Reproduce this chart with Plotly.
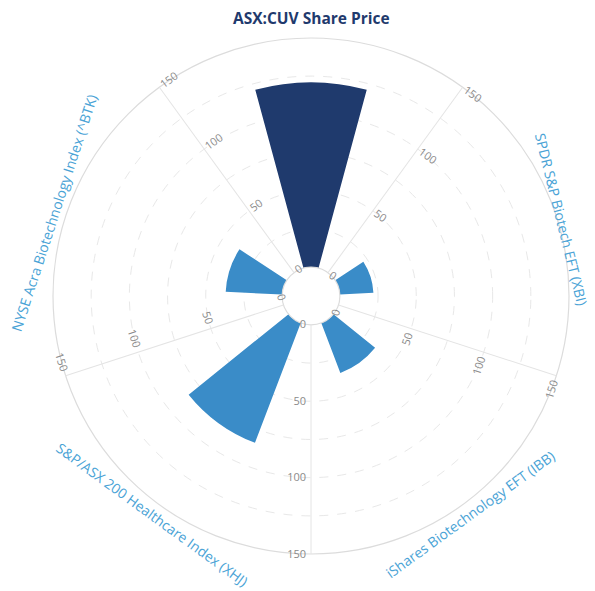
import math
import plotly.graph_objects as go

categories = ["ASX:CUV Share Price", "SPDR S&P Biotech EFT (XBI)", "iShares Biotechnology EFT (IBB)",
              "S&P/ASX 200 Healthcare Index (XHJ)", "NYSE Acra Biotechnology Index (^BTK)"]
values = [121, 22, 35, 84, 37]
bar_colors = ["#1f3a6d", "#3a8cc8", "#3a8cc8", "#3a8cc8", "#3a8cc8"]
label_colors = ["#1f3a6d", "#4aa3d6", "#4aa3d6", "#4aa3d6", "#4aa3d6"]
tick_vals = [0, 50, 100, 150]
grid_vals = [0, 25, 50, 75, 100, 125, 150]

W, H = 595, 591
cx, cy, R = 311, 296, 258
HOLE = 0.112
dom_x = [(cx - R) / W, (cx + R) / W]
dom_y = [(H - (cy + R)) / H, (H - (cy - R)) / H]

fig = go.Figure()
fig.add_trace(go.Barpolar(r=values, theta=categories, marker_color=bar_colors,
                          marker_line_width=0, width=0.42, subplot="polar",
                          showlegend=False, hoverinfo="r+theta"))

common_polar = dict(domain=dict(x=dom_x, y=dom_y), hole=HOLE)

layout = dict(
    width=W, height=H, margin=dict(l=0, r=0, t=0, b=0),
    paper_bgcolor="white", showlegend=False,
    font=dict(family="Open Sans", color="#888"),
    polar=dict(
        **common_polar, bgcolor="white",
        angularaxis=dict(type="category", categoryarray=categories, direction="clockwise",
                         rotation=90, showticklabels=False, ticks="", showgrid=False,
                         showline=True, linecolor="#dcdcdc", linewidth=1.2),
        radialaxis=dict(range=[0, 150], tickvals=grid_vals, showticklabels=False, ticks="",
                        showline=False, showgrid=True, gridcolor="#e8e8e8", griddash="dash",
                        gridwidth=1),
    ),
)

# radial axes drawn along the category boundaries, labels perpendicular to each spoke
spoke_angles = [90 - 36 - 72 * k for k in range(5)]
for i, a in enumerate(spoke_angles):
    name = f"polar{i + 2}"
    w = -(a + 90)
    while w <= -90:
        w += 180
    while w > 90:
        w -= 180
    t = w + a
    while t <= -180:
        t += 360
    while t > 180:
        t -= 360
    layout[name] = dict(
        **common_polar, bgcolor="rgba(0,0,0,0)",
        angularaxis=dict(visible=False, direction="clockwise", rotation=90),
        radialaxis=dict(range=[0, 150], angle=a, tickvals=tick_vals, ticks="",
                        showline=True, linecolor="#e4e4e4", linewidth=1, showgrid=False,
                        tickangle=t, tickfont=dict(size=11, color="#8a8a8a")),
    )
    fig.add_trace(go.Scatterpolar(r=[None], theta=[0], subplot=name, mode="markers",
                                  showlegend=False, hoverinfo="skip"))

# category labels, tangent to the outer circle
label_style = [  # (radius offset, angle offset, extra rotation, font size)
    (20, 0, 0, 15.5),
    (4, -1, 4, 14),
    (12, 0, 0, 14),
    (12, 0, 0, 14),
    (12, 0, 0, 14),
]
annotations = []
for k, (cat, col) in enumerate(zip(categories, label_colors)):
    dr, dth, drot, fs = label_style[k]
    base = 90 - 72 * k
    th = base + dth
    rr = R + dr
    x = (cx + rr * math.cos(math.radians(th))) / W
    y = (H - (cy - rr * math.sin(math.radians(th)))) / H
    ang = 90 - base
    if math.sin(math.radians(base)) < -0.01:
        ang -= 180
    while ang > 180:
        ang -= 360
    ang += drot
    annotations.append(dict(text=f"<b>{cat}</b>" if k == 0 else cat, x=x, y=y,
                            xref="paper", yref="paper", showarrow=False, textangle=ang,
                            xanchor="center", yanchor="middle",
                            font=dict(size=fs, color=col, family="Open Sans")))
layout["annotations"] = annotations

fig.update_layout(**layout)
fig.write_html("out.html")
